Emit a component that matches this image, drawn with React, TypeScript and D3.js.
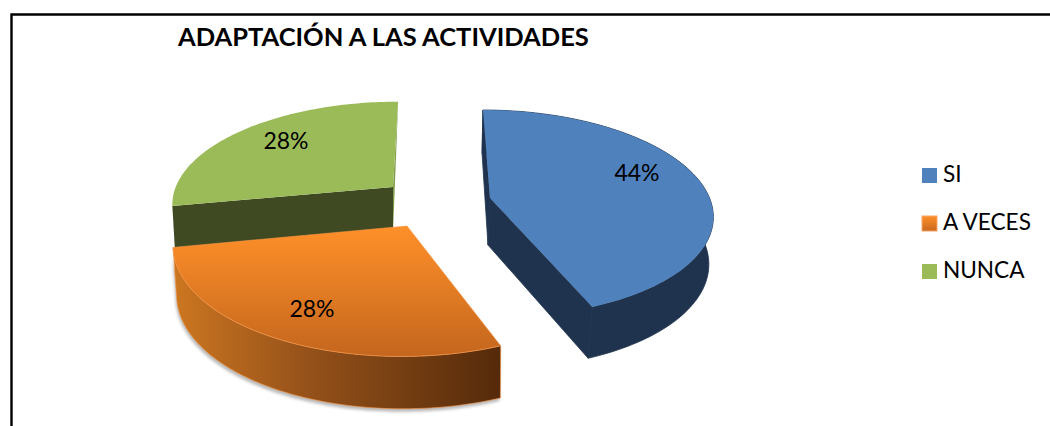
import React from "react";
import * as d3 from "d3";

const categories = ["SI", "A VECES", "NUNCA"];
const shares = [44, 28, 28];
const labels = ["44%", "28%", "28%"];
const titleText = "ADAPTACIÓN A LAS ACTIVIDADES";

const W = 1050, H = 426;
const RX = 224, RY = 101, K = 0.148;
type Geo = { ax: number; ay: number; sx: number; sy: number; shear: number };

const topGeo: Geo[] = [
  { ax: 490, ay: 198, sx: 0.98, sy: 1, shear: 0.08 },
  { ax: 407, ay: 226, sx: 1.03, sy: 1.1, shear: -0.04 },
  { ax: 393, ay: 187, sx: 0.97, sy: 0.97, shear: -0.06 },
];
const botGeo: Geo[] = [
  { ax: 488, ay: 245, sx: 0.97, sy: 1.04, shear: 0.065 },
  { ax: 407, ay: 276, sx: 1.015, sy: 1.12, shear: -0.03 },
  { ax: 393, ay: 232, sx: 0.96, sy: 0.97, shear: -0.04 },
];
const labelPos: [number, number][] = [[637, 172], [312, 308], [286, 140]];

function project(g: Geo, a: number): [number, number] {
  const u = Math.sin(a), v = Math.cos(a);
  const s = 1 / (1 + K * v);
  const dy = -RY * g.sy * v * s;
  return [g.ax + RX * g.sx * u * s + g.shear * dy, g.ay + dy];
}
function arcPts(g: Geo, a0: number, a1: number, n = 90): [number, number][] {
  return d3.range(n + 1).map((i) => project(g, a0 + ((a1 - a0) * i) / n));
}
const line = d3.line();

export default function App() {
  const arcs = d3.pie<number>().sort(null)(shares);
  const [blue, orange, green] = arcs;
  const apex = (g: Geo): [number, number] => [g.ax, g.ay];
  const face = (i: number) => {
    const a = arcs[i];
    return line([apex(topGeo[i]), ...arcPts(topGeo[i], a.startAngle, a.endAngle)]) + "Z";
  };
  const band = (i: number, a0: number, a1: number) =>
    line([...arcPts(topGeo[i], a0, a1), ...arcPts(botGeo[i], a0, a1).reverse()]) + "Z";
  const side = (i: number, a: number) =>
    line([project(topGeo[i], a), apex(topGeo[i]), apex(botGeo[i]), project(botGeo[i], a)]) + "Z";

  const font = "Lato, 'Noto Sans', sans-serif";
  const legendY = [168, 216, 264];
  const legendFill = ["#4F81BD", "url(#orangeLegend)", "#9BBB59"];
  const navy = "#1F334E";

  return (
    <svg width={W} height={H} viewBox={`0 0 ${W} ${H}`} style={{ position: "absolute", left: 0, top: 0, background: "#fff" }}>
      <defs>
        <linearGradient id="orangeTop" x1="0" y1="0" x2="0" y2="1">
          <stop offset="0" stopColor="#FF9029" />
          <stop offset="1" stopColor="#C4661E" />
        </linearGradient>
        <linearGradient id="orangeLegend" x1="0" y1="0" x2="0" y2="1">
          <stop offset="0" stopColor="#FF8F2A" />
          <stop offset="1" stopColor="#C8691E" />
        </linearGradient>
        <linearGradient id="orangeWall" gradientUnits="userSpaceOnUse" x1="175" y1="0" x2="500" y2="0">
          <stop offset="0" stopColor="#CC7620" />
          <stop offset="0.4" stopColor="#96521A" />
          <stop offset="1" stopColor="#552A0A" />
        </linearGradient>
        <filter id="soft" x="-5%" y="-5%" width="110%" height="110%">
          <feGaussianBlur stdDeviation="1.8" />
        </filter>
      </defs>

      <path d={`M11.5,${H}V14.5H${W}`} fill="none" stroke="#000" strokeWidth={2.4} />

      <text x={178} y={46} fontFamily={font} fontWeight={700} fontSize={25.5} fill="#000">{titleText}</text>

      {/* NUNCA */}
      <path d={side(2, green.endAngle)} fill="#7F9C48" />
      <path d={side(2, green.startAngle)} fill="#3F4A22" />
      <path d={face(2)} fill="#9BBB59" />

      {/* A VECES */}
      <path d={band(1, orange.startAngle, orange.endAngle)} fill="#9a9a9a" opacity={0.7} filter="url(#soft)" transform="translate(-1,3)" />
      <path d={band(1, orange.startAngle, orange.endAngle)} fill="url(#orangeWall)" stroke="#F79646" strokeWidth={0.6} />
      <path d={face(1)} fill="url(#orangeTop)" stroke="#F79646" strokeWidth={0.6} />

      {/* SI */}
      <path d={band(0, blue.startAngle, blue.endAngle)} fill={navy} stroke={navy} strokeWidth={0.8} />
      <path d={side(0, blue.startAngle)} fill={navy} stroke={navy} strokeWidth={0.8} />
      <path d={side(0, blue.endAngle)} fill={navy} stroke={navy} strokeWidth={0.8} />
      <path d={face(0)} fill="#4F81BD" />

      {labels.map((t, i) => (
        <text key={i} x={labelPos[i][0]} y={labelPos[i][1]} textAnchor="middle" dominantBaseline="central" fontFamily={font} fontSize={23} fill="#000">{t}</text>
      ))}

      {categories.map((c, i) => (
        <g key={c}>
          <rect x={922} y={legendY[i]} width={15} height={15} fill={legendFill[i]} stroke={i === 1 ? "#F9A566" : "none"} strokeWidth={i === 1 ? 1 : 0} />
          <text x={943} y={legendY[i] + 14} fontFamily={font} fontSize={22.6} fill="#000">{c}</text>
        </g>
      ))}
    </svg>
  );
}
